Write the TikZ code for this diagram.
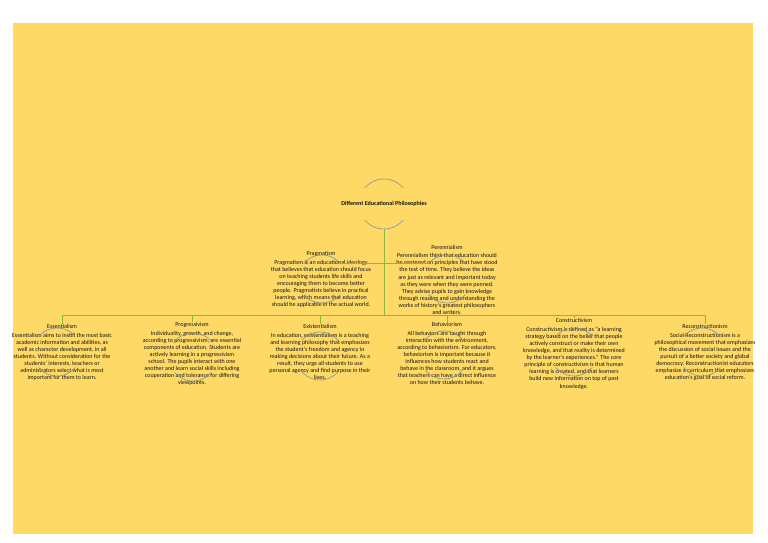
\documentclass[tikz,border=0pt]{standalone}
\usepackage{fontspec}
\setmainfont{Carlito}
\definecolor{paper}{RGB}{255,217,102}
\definecolor{branch}{RGB}{140,185,60}
\definecolor{ringgray}{RGB}{125,142,165}
\definecolor{ink}{RGB}{20,20,20}
\newcommand\ringarcs[2]{%
  \draw[ringline] (#1.40) arc[start angle=40,end angle=140,radius=#2]
    (#1.220) arc[start angle=220,end angle=320,radius=#2];}

\begin{document}
\begin{tikzpicture}[x=1pt,y=1pt,
  ring/.style={circle,inner sep=0pt,outer sep=0pt,minimum size=48pt},
  ringline/.style={draw=ringgray,line width=0.6pt},
  branchline/.style={draw=branch,line width=0.9pt},
  idea/.style={anchor=north,align=center,inner sep=0pt,text=ink,
    font=\fontsize{6}{7.1}\selectfont},
]
  \useasboundingbox (0,0) rectangle (768,543);
  \fill[white] (0,0) rectangle (768,543);
  \fill[paper] (13,9) rectangle (753,520);

  \node[ring,minimum size=50pt] (rootR) at (384,339) {};
  \node[ring] (pragR) at (322,264) {};
  \node[ring] (perenR) at (447,264) {};
  \node[ring] (essR) at (57,191) {};
  \node[ring] (progR) at (193,186) {};
  \node[ring] (existR) at (320,187) {};
  \node[ring] (behavR) at (444,188) {};
  \node[ring] (constrR) at (574,191) {};
  \node[ring] (reconR) at (702,191) {};

  \coordinate (bus) at (384,228);

  \node[idea,anchor=center,font=\fontsize{6}{7.1}\selectfont\bfseries] (rootT) at (rootR) {Different Educational Philosophies};

  \node[idea] (pragT) at (321,291.5) {Pragmatism\\[1.3pt]
    Pragmatism is an educational ideology\\
    that believes that education should focus\\
    on teaching students life skills and\\
    encouraging them to become better\\
    people. Pragmatists believe in practical\\
    learning, which means that education\\
    should be applicable in the actual world.};
  \node[idea] (perenT) at (447,298) {Perennialism\\[1.3pt]
    Perennialism think that education should\\
    be centered on principles that have stood\\
    the test of time. They believe the ideas\\
    are just as relevant and important today\\
    as they were when they were penned.\\
    They advise pupils to gain knowledge\\
    through reading and understanding the\\
    works of history’s greatest philosophers\\
    and writers.};

  \node[idea] (essT) at (62,218.5) {Essentialism\\[1.3pt]
    Essentialism aims to instill the most basic\\
    academic information and abilities, as\\
    well as character development, in all\\
    students. Without consideration for the\\
    students’ interests, teachers or\\
    administrators select what is most\\
    important for them to learn.};
  \node[idea] (progT) at (192,220.5) {Progressivism\\[1.3pt]
    Individuality, growth, and change,\\
    according to progressivism, are essential\\
    components of education. Students are\\
    actively learning in a progressivism\\
    school. The pupils interact with one\\
    another and learn social skills including\\
    cooperation and tolerance for differing\\
    viewpoints.};
  \node[idea] (existT) at (320,218.5) {Existentialism\\[1.3pt]
    In education, existentialism is a teaching\\
    and learning philosophy that emphasizes\\
    the student’s freedom and agency in\\
    making decisions about their future. As a\\
    result, they urge all students to use\\
    personal agency and find purpose in their\\
    lives.};
  \node[idea] (behavT) at (447,220.5) {Behaviorism\\[1.3pt]
    All behaviors are taught through\\
    interaction with the environment,\\
    according to behaviorism. For educators,\\
    behaviorism is important because it\\
    influences how students react and\\
    behave in the classroom, and it argues\\
    that teachers can have a direct influence\\
    on how their students behave.};
  \node[idea] (constrT) at (574,224.5) {Constructivism\\[1.3pt]
    Constructivism is defined as “a learning\\
    strategy based on the belief that people\\
    actively construct or make their own\\
    knowledge, and that reality is determined\\
    by the learner’s experiences.” The core\\
    principle of constructivism is that human\\
    learning is created, and that learners\\
    build new information on top of past\\
    knowledge.};
  \node[idea] (reconT) at (705,218.5) {Reconstructionism\\[1.3pt]
    Social Reconstructionism is a\\
    philosophical movement that emphasizes\\
    the discussion of social issues and the\\
    pursuit of a better society and global\\
    democracy. Reconstructionist educators\\
    emphasize a curriculum that emphasizes\\
    education’s goal of social reform.};

  \draw[branchline] (rootR.south) -- (bus);
  \draw[branchline] (pragR.40) -- (perenR.140);
  \draw[branchline] (bus -| essT.north) -- (bus -| reconT.north);
  \foreach \n in {essT,progT,existT,behavT,constrT,reconT}
    \draw[branchline] (bus -| \n.north) -- (\n.north);

  \ringarcs{rootR}{25pt}
  \foreach \n in {pragR,perenR,essR,progR,existR,behavR,constrR,reconR}
    {\ringarcs{\n}{24pt}}
\end{tikzpicture}
\end{document}
